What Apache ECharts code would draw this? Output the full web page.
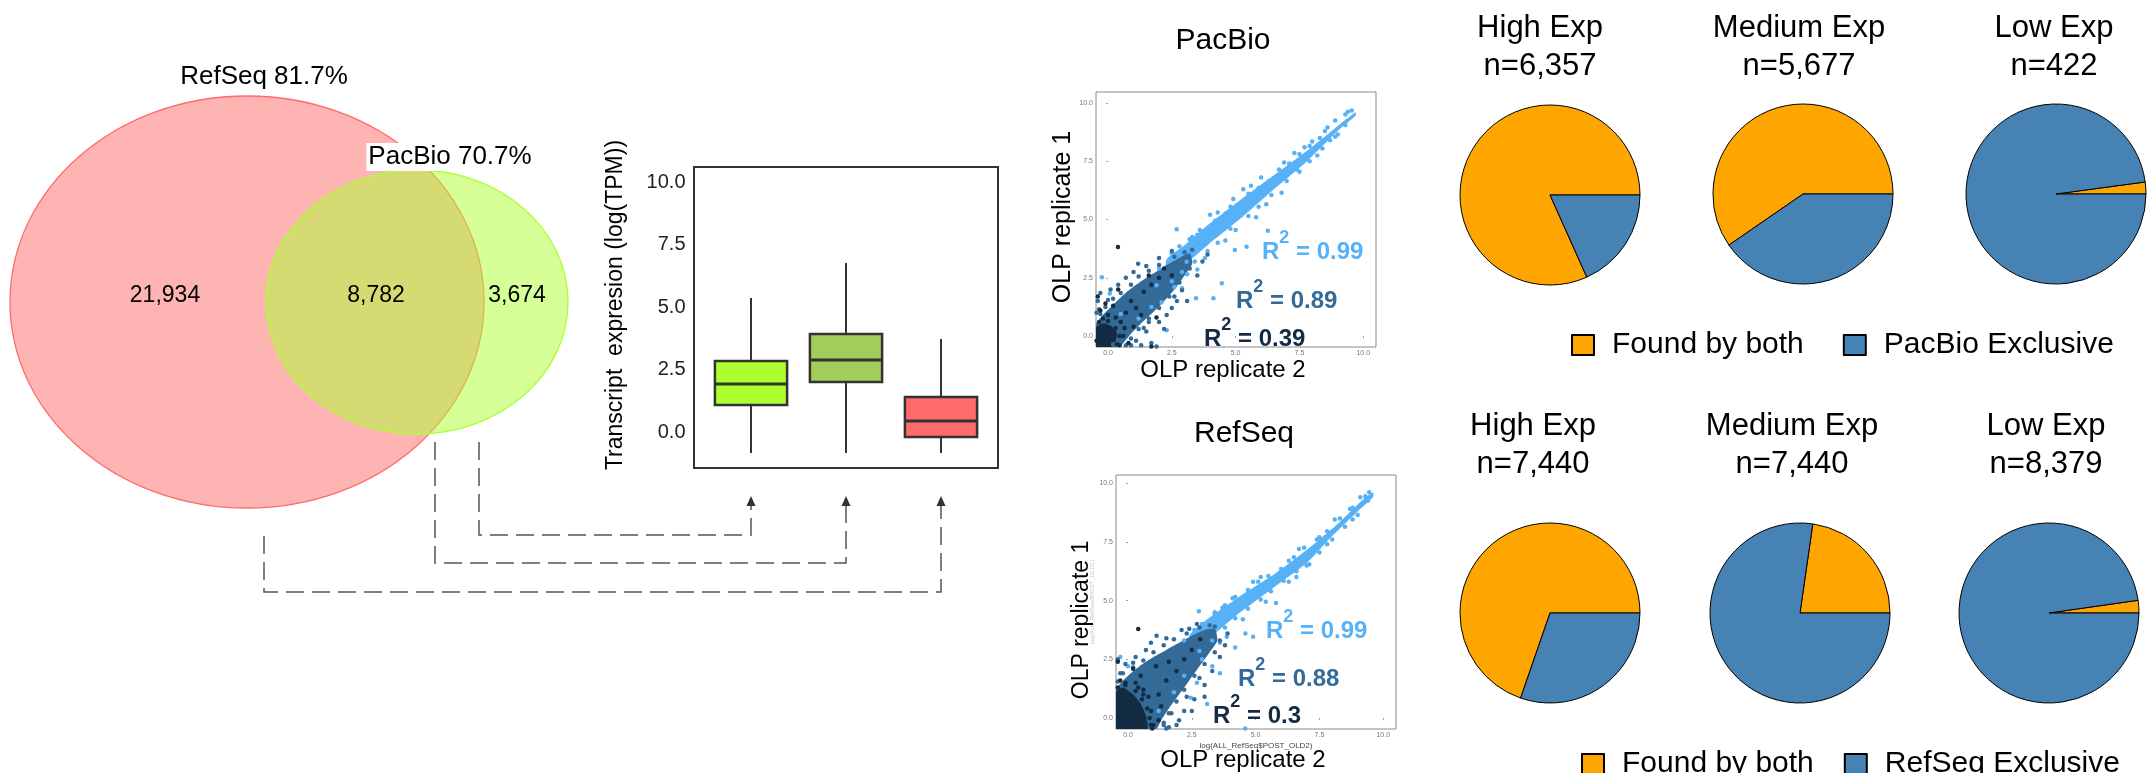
<!DOCTYPE html>
<html>
<head>
<meta charset="utf-8">
<script src="https://cdn.jsdelivr.net/npm/echarts@6/dist/echarts.min.js"></script>
<style>
  html, body { margin: 0; padding: 0; background: #ffffff; }
  #main { width: 2152px; height: 773px; }
</style>
</head>
<body>
<div id="main"></div>
<script>
// ---------------- data ----------------
const vennNames = ['RefSeq', 'PacBio'];
const vennShares = ['81.7%', '70.7%'];
const vennCounts = [21934, 8782, 3674];          // RefSeq only, shared, PacBio only

const boxCategories = ['PacBio only', 'Shared', 'RefSeq only'];
// [lower whisker, Q1, median, Q3, upper whisker] of log(TPM)
const boxStats = [
  [-0.84, 1.08, 1.92, 2.84, 5.36],
  [-0.84, 2.00, 2.88, 3.92, 6.76],
  [-0.84, -0.20, 0.44, 1.40, 3.72]
];
const axisTickValues = [0, 2.5, 5, 7.5, 10];

const r2PacBio = ['0.99', '0.89', '0.39'];
const r2RefSeq = ['0.99', '0.88', '0.3'];

// replicate scatter, PacBio: dense cores (outline) and scattered points
const pacbioHighCore = [[2.3,3.3],[3.0,3.9],[3.9,4.75],[5.2,5.85],[6.5,6.9],[7.8,7.95],[9.1,9.1],[9.7,9.6],[9.7,9.45],[9.1,8.9],[7.8,7.5],[6.5,6.3],[5.2,5.05],[3.9,3.9],[3.0,3.05],[2.3,2.4]];
const pacbioHighPts = [[4.91,5.88],[2.69,4.58],[6.26,4.52],[4.46,2.26],[4.13,1.62],[3.45,1.62],[4.97,3.69],[5.43,3.83],[-0.24,2.52],[0.07,1.83],[3.08,3.19],[1.9,2.18],[2.3,0.25],[3.3,4.25],[3.6,4.55],[4.3,5.3],[5.6,6.45],[6.0,6.8],[6.9,7.45],[7.3,7.85],[8.0,8.35],[8.5,8.8],[8.9,9.25],[9.3,9.5],[9.55,9.68],[9.0,8.65],[8.2,7.75],[7.5,7.05],[6.8,6.15],[5.8,5.1],[4.6,4.1],[3.8,3.35],[3.1,2.65],[5.0,4.55],[6.2,5.65],[2.6,2.1],[2.1,1.45],[1.7,1.25],[2.9,2.05],[3.5,2.85],[1.2,0.75],[0.5,0.95],[4.0,5.2],[5.3,6.3],[2.0,2.9],[2.6,3.5],[7.7,8.1],[8.7,8.4],
  [2.5,3.55],[2.8,3.85],[3.2,4.15],[3.5,4.35],[4.2,4.95],[4.6,5.25],[4.8,5.55],[5.5,6.1],[5.9,6.35],[6.3,6.65],[6.7,7.15],[7.1,7.4],[7.5,7.8],[7.9,8.15],[8.3,8.5],[8.6,8.95],[9.4,9.62],
  [2.5,2.35],[2.9,2.75],[3.4,3.2],[3.9,3.65],[4.3,4.0],[4.8,4.6],[5.5,5.15],[5.9,5.55],[6.4,6.05],[7.0,6.65],[7.4,7.15],[7.9,7.5],[8.4,8.05],[8.9,8.55],[9.3,9.05]];
const pacbioMidCore = [[-0.47,0.5],[-0.2,0.9],[0.3,1.45],[0.8,1.95],[1.3,2.35],[1.8,2.7],[2.3,3.05],[2.8,3.35],[3.2,3.55],[3.3,3.1],[3.0,2.6],[2.6,2.0],[2.2,1.5],[1.8,1.05],[1.3,0.55],[0.9,0.1],[0.6,-0.3],[0.45,-0.47],[-0.47,-0.47]];
const pacbioMidPts = [[-0.4,1.5],[-0.3,1.85],[-0.35,1.15],[0.1,2.0],[0.4,2.2],[0.7,2.5],[1.0,2.75],[1.18,3.1],[1.5,3.0],[2.0,3.35],[2.5,3.65],[1.9,-0.45],[1.7,-0.3],[2.0,0.6],[2.5,1.2],[2.9,1.97],[3.1,1.5],[1.5,0.2],[1.1,-0.2],[3.5,2.6],[2.7,1.5],[0.9,-0.4],[1.6,0.6],[2.3,0.9],[3.7,3.2],[3.9,3.5],[-0.45,1.0],[0.2,-0.35],[2.4,2.95],[3.3,3.7],[0.0,1.55],[1.3,-0.4],[2.2,0.3],
  [-0.3,0.95],[-0.1,1.25],[0.2,1.6],[0.5,1.85],[0.9,2.2],[1.2,2.55],[1.6,2.8],[2.0,3.05],[2.6,3.4],[3.0,3.6],
  [3.2,2.9],[2.8,2.3],[2.4,1.7],[2.0,1.2],[1.6,0.75],[1.2,0.3],[0.9,-0.1],[0.7,-0.4],[1.4,0.35],[2.6,1.7]];
const pacbioLowCore = [[-0.47,-0.47],[-0.47,0.35],[-0.2,0.55],[0.1,0.45],[0.35,0.15],[0.3,-0.2],[0.15,-0.47]];
const pacbioLowPts = [[0.39,3.82],[-0.4,1.7],[-0.3,1.1],[0.0,0.9],[0.2,1.3],[0.5,0.6],[0.7,1.0],[0.9,1.5],[1.1,1.2],[1.4,1.9],[1.7,2.2],[2.0,2.5],[2.2,2.9],[0.6,0.0],[0.8,-0.3],[1.3,0.9],[1.6,2.6],[1.9,0.8],[0.3,0.8],[-0.1,1.4],[2.5,2.6],[0.4,2.0],[1.0,0.4],[1.7,-0.45],[-0.45,-0.2],[0.45,-0.4],[0.65,0.35],[-0.2,0.75],
  [-0.35,0.6],[0.0,0.65],[0.3,0.35],[0.45,0.0],[0.35,-0.35],[-0.1,0.3],[0.15,0.1]];

// replicate scatter, RefSeq
const refseqHighCore = [[2.4,3.5],[3.1,4.2],[4.4,5.2],[5.7,6.1],[7.0,7.15],[8.2,8.25],[9.2,9.3],[9.6,9.6],[9.6,9.4],[9.0,8.8],[8.0,7.75],[7.0,6.6],[5.7,5.55],[4.4,4.5],[3.2,3.4],[2.6,2.8]];
const refseqHighPts = [[4.9,5.8],[2.78,4.55],[4.59,-0.45],[3.1,0.6],[2.46,0.86],[4.6,3.6],[3.87,3.46],[4.9,3.46],[3.6,1.9],[2.7,1.5],[3.7,4.7],[4.1,5.1],[5.2,6.0],[6.3,6.7],[6.7,7.2],[7.5,7.7],[8.1,8.45],[8.7,8.9],[9.1,9.4],[9.45,9.62],[8.8,8.45],[7.8,7.4],[7.1,6.55],[6.3,5.8],[5.4,4.95],[4.5,4.2],[3.6,3.2],[2.9,2.5],[3.3,2.2],[5.8,4.9],[6.6,6.0],[2.2,1.8],[1.8,1.1],[1.2,0.3],[0.0,2.2],[-0.3,2.6],[4.2,3.0],[2.2,3.3],[3.4,4.5],
  [2.6,3.75],[2.9,4.0],[3.4,4.45],[3.8,4.8],[4.2,5.15],[4.7,5.45],[5.1,5.8],[5.5,6.05],[6.0,6.35],[6.5,6.85],[6.9,7.25],[7.4,7.6],[7.8,7.95],[8.3,8.5],[8.8,8.95],[9.3,9.45],
  [2.8,2.85],[3.3,3.3],[3.8,3.85],[4.2,4.25],[4.7,4.65],[5.2,5.05],[5.6,5.4],[6.1,5.85],[6.6,6.25],[7.0,6.5],[7.5,7.05],[8.0,7.6],[8.5,8.15],[9.0,8.65],[9.4,9.25]];
const refseqMidCore = [[-0.47,1.2],[0.0,1.8],[0.5,2.25],[1.0,2.6],[1.5,2.9],[2.0,3.2],[2.5,3.5],[3.0,3.75],[3.4,3.8],[3.5,3.3],[3.2,2.8],[2.8,2.2],[2.4,1.6],[2.0,1.0],[1.6,0.4],[1.3,-0.1],[1.1,-0.47],[-0.47,-0.47]];
const refseqMidPts = [[-0.4,2.5],[-0.1,2.3],[1.12,3.5],[1.9,-0.3],[2.2,0.3],[2.6,0.8],[3.0,1.4],[3.3,2.0],[3.6,2.6],[2.0,-0.1],[1.6,-0.4],[0.9,3.2],[1.5,3.4],[2.1,3.75],[2.7,4.0],[3.8,3.1],[0.3,2.6],[0.7,2.9],[2.5,0.3],[3.0,0.9],[1.4,-0.2],[2.4,3.8],[3.4,3.9],[-0.3,1.9],[0.2,2.35],[1.7,0.2],[2.8,1.7],[3.9,3.6],
  [-0.4,1.55],[-0.2,1.9],[0.2,2.15],[0.6,2.45],[1.0,2.8],[1.4,3.1],[1.8,3.35],[2.3,3.6],[2.8,3.85],[3.2,3.95],
  [3.6,3.3],[3.4,2.8],[3.0,2.3],[2.6,1.8],[2.2,1.2],[1.9,0.7],[1.6,0.2],[1.4,-0.3],[1.5,-0.45],[2.3,0.9]];
const refseqLowCore = [[-0.47,-0.47],[-0.47,1.1],[-0.2,1.3],[0.2,1.0],[0.5,0.6],[0.7,0.1],[0.75,-0.47]];
const refseqLowPts = [[0.9,0.3],[1.0,-0.3],[0.8,0.9],[0.3,1.5],[-0.3,1.6],[-0.4,2.4],[0.2,2.1],[1.2,1.0],[1.5,1.6],[1.9,2.0],[2.2,2.5],[2.5,2.9],[0.5,1.8],[1.1,2.2],[1.3,0.5],[1.6,2.4],[0.4,3.79],[2.83,3.35],[0.95,-0.45],[1.2,-0.1],[0.6,1.2],[-0.1,1.5],[0.1,0.6],
  [-0.4,1.3],[-0.1,1.4],[0.3,1.15],[0.55,0.8],[0.75,0.4],[0.85,0.0],[0.9,-0.3],[0.6,1.0],[0.4,1.3]];

// expression classes
const expGroups = ['High Exp', 'Medium Exp', 'Low Exp'];
const sliceNames = ['Found by both', 'PacBio Exclusive', 'RefSeq Exclusive'];
const pacbioFoundBoth = [5194, 3384, 9];
const pacbioExclusive = [1163, 2293, 413];
const refseqFoundBoth = [5186, 1691, 189];
const refseqExclusive = [2254, 5749, 8190];

// ---------------- drawing ----------------
const FONT = "'Liberation Sans', Arial, Helvetica, sans-serif";
const C_HIGH = '#56B1F7', C_MID = '#336A98', C_LOW = '#132B43';
const boxColors = ['#ADFF2F', '#A2CD5A', '#FF6A6A'];
const C_BOTH = '#FFA500', C_EXCL = '#4682B4';
const fmt = n => n.toLocaleString('en-US');

const chart = echarts.init(document.getElementById('main'), null, { renderer: 'canvas' });

function text(str, x, y, size, opts) {
  opts = opts || {};
  return {
    type: 'text', x: x, y: y, rotation: opts.rotation || 0, z: opts.z || 10,
    style: Object.assign({
      text: str, font: (opts.weight || 'normal') + ' ' + size + 'px ' + FONT,
      fill: opts.color || '#000', align: opts.align || 'center', verticalAlign: 'middle'
    }, opts.style || {})
  };
}

function r2Text(value, x, y, color) {
  const base = { fontWeight: 'bold', fontFamily: FONT, fill: color };
  return {
    type: 'text', x: x, y: y, z: 20,
    style: {
      text: '{r|R}{s|2}{t| = ' + value + '}', align: 'left', verticalAlign: 'middle',
      rich: {
        r: Object.assign({ fontSize: 24, lineHeight: 35, verticalAlign: 'bottom' }, base),
        s: Object.assign({ fontSize: 18, lineHeight: 18, verticalAlign: 'top' }, base),
        t: Object.assign({ fontSize: 24, lineHeight: 35, verticalAlign: 'bottom' }, base)
      }
    }
  };
}

function cloudCore(axis, pts, color) {
  return {
    type: 'custom', xAxisIndex: axis, yAxisIndex: axis, data: pts, silent: true, clip: true,
    encode: { x: 0, y: 1 },
    renderItem: function (params, api) {
      if (params.dataIndex !== 0) return null;
      return { type: 'polygon', shape: { points: pts.map(p => api.coord(p)), smooth: 0.2 }, style: { fill: color } };
    }
  };
}
function cloudPts(axis, pts, color) {
  return {
    type: 'scatter', xAxisIndex: axis, yAxisIndex: axis, data: pts, silent: true, clip: true,
    symbolSize: 4.5, itemStyle: { color: color, opacity: 1 }
  };
}

function scatterAxis(gridIndex, min, max, extra) {
  return Object.assign({
    type: 'value', gridIndex: gridIndex, min: min, max: max,
    axisLine: { show: false }, splitLine: { show: false },
    axisTick: { show: true, customValues: axisTickValues, length: 2, lineStyle: { color: '#888', width: 0.8 } },
    axisLabel: { customValues: axisTickValues, fontSize: 7, color: '#777', margin: 3, fontFamily: FONT,
      formatter: v => v.toFixed(1) }
  }, extra || {});
}

function pieSeries(center, foundBoth, exclusive, exclusiveName) {
  return {
    type: 'pie', center: center, radius: 90, startAngle: 0, clockwise: false,
    silent: true, label: { show: false }, labelLine: { show: false },
    itemStyle: { borderColor: '#000', borderWidth: 1 },
    emphasis: { disabled: true },
    data: [
      { name: sliceNames[0], value: foundBoth, itemStyle: { color: C_BOTH } },
      { name: exclusiveName, value: exclusive, itemStyle: { color: C_EXCL } }
    ]
  };
}

const pieCentersTop = [[1550, 195], [1803, 194], [2056, 194]];
const pieCentersBottom = [[1550, 613], [1800, 613], [2049, 613]];

const series = [
  // expression boxplots (no whisker caps)
  {
    type: 'custom', xAxisIndex: 1, yAxisIndex: 1, silent: true,
    data: boxStats.map((s, i) => [i].concat(s)),
    encode: { x: 0, y: [1, 2, 3, 4, 5] },
    renderItem: function (params, api) {
      const i = api.value(0);
      const p = k => api.coord([i, api.value(k)]);
      const lo = p(1), q1 = p(2), md = p(3), q3 = p(4), hi = p(5);
      const w = api.size([1, 0])[0] * 0.76;
      const x = lo[0];
      return {
        type: 'group', children: [
          { type: 'line', shape: { x1: x, y1: hi[1], x2: x, y2: lo[1] }, style: { stroke: '#333', lineWidth: 2 } },
          { type: 'rect', shape: { x: x - w / 2, y: q3[1], width: w, height: q1[1] - q3[1] },
            style: { fill: boxColors[params.dataIndex], stroke: '#333', lineWidth: 2.5 } },
          { type: 'line', shape: { x1: x - w / 2, y1: md[1], x2: x + w / 2, y2: md[1] }, style: { stroke: '#333', lineWidth: 3 } }
        ]
      };
    }
  },
  cloudCore(2, pacbioHighCore, C_HIGH), cloudPts(2, pacbioHighPts, C_HIGH),
  cloudCore(2, pacbioMidCore, C_MID), cloudPts(2, pacbioMidPts, C_MID),
  cloudCore(2, pacbioLowCore, C_LOW), cloudPts(2, pacbioLowPts, C_LOW),
  cloudCore(3, refseqHighCore, C_HIGH), cloudPts(3, refseqHighPts, C_HIGH),
  cloudCore(3, refseqMidCore, C_MID), cloudPts(3, refseqMidPts, C_MID),
  cloudCore(3, refseqLowCore, C_LOW), cloudPts(3, refseqLowPts, C_LOW)
];
expGroups.forEach((g, i) => {
  series.push(pieSeries(pieCentersTop[i], pacbioFoundBoth[i], pacbioExclusive[i], sliceNames[1]));
  series.push(pieSeries(pieCentersBottom[i], refseqFoundBoth[i], refseqExclusive[i], sliceNames[2]));
});

const graphics = [];
// Venn diagram
graphics.push({ type: 'ellipse', z: 1, shape: { cx: 247, cy: 302, rx: 237, ry: 206 },
  style: { fill: 'rgba(255,106,106,0.5)', stroke: '#FF6A6A', lineWidth: 1.3 } });
graphics.push({ type: 'ellipse', z: 2, shape: { cx: 417, cy: 302, rx: 151, ry: 132 },
  style: { fill: 'rgba(173,255,47,0.5)', stroke: '#ADFF2F', lineWidth: 1.3 } });
graphics.push(text(vennNames[0] + ' ' + vennShares[0], 264, 77, 26));
graphics.push(text(vennNames[1] + ' ' + vennShares[1], 450, 157, 26,
  { style: { backgroundColor: '#fff', padding: [1, 2, 1, 2] } }));
graphics.push(text(fmt(vennCounts[0]), 165, 296, 23));
graphics.push(text(fmt(vennCounts[1]), 376, 296, 23));
graphics.push(text(fmt(vennCounts[2]), 517, 296, 23));

// boxplot axis title
graphics.push(text('Transcript  expresion (log(TPM))', 616, 305, 23, { rotation: Math.PI / 2 }));

// replicate scatter titles
graphics.push(text('PacBio', 1223, 41, 30));
graphics.push(text('RefSeq', 1244, 434, 30));
graphics.push(text('OLP replicate 2', 1223, 370, 24));
graphics.push(text('OLP replicate 1', 1063, 217, 25, { rotation: Math.PI / 2 }));
graphics.push(text('OLP replicate 2', 1243, 760, 24));
graphics.push(text('OLP replicate 1', 1082, 620, 23, { rotation: Math.PI / 2 }));
[C_HIGH, C_MID, C_LOW].forEach((c, i) => {
  graphics.push(r2Text(r2PacBio[i], [1262, 1236, 1204][i], [247, 296, 334][i], c));
  graphics.push(r2Text(r2RefSeq[i], [1266, 1238, 1213][i], [626, 674, 711][i], c));
});

// pie titles
const topTitleX = [1540, 1799, 2054], botTitleX = [1533, 1792, 2046];
expGroups.forEach((g, i) => {
  graphics.push(text(g, topTitleX[i], 28, 31));
  graphics.push(text('n=' + fmt(pacbioFoundBoth[i] + pacbioExclusive[i]), topTitleX[i], 66, 31));
  graphics.push(text(g, botTitleX[i], 426, 31));
  graphics.push(text('n=' + fmt(refseqFoundBoth[i] + refseqExclusive[i]), botTitleX[i], 464, 31));
});

const legendText = { fontSize: 30, color: '#000', padding: [0, 0, 0, 13], lineHeight: 30, fontFamily: FONT };
const option = {
  animation: false,
  backgroundColor: '#ffffff',
  textStyle: { fontFamily: FONT },
  grid: [
    { left: 694, top: 167, width: 304, height: 301, show: true, borderColor: '#333', borderWidth: 2, backgroundColor: 'transparent' },
    { left: 703.5, top: 167, width: 285, height: 301 },
    { left: 1096, top: 92, width: 280, height: 255, show: true, borderColor: '#8a8a8a', borderWidth: 1, backgroundColor: 'transparent' },
    { left: 1116, top: 475, width: 280, height: 254, show: true, borderColor: '#8a8a8a', borderWidth: 1, backgroundColor: 'transparent' }
  ],
  xAxis: [
    { type: 'value', gridIndex: 0, min: 0, max: 1, show: false },
    { type: 'category', gridIndex: 1, data: boxCategories, axisLine: { show: false },
      axisLabel: { show: false }, axisTick: { show: true, alignWithLabel: true, length: 3, lineStyle: { color: '#aaa' } } },
    scatterAxis(2, -0.47, 10.5),
    scatterAxis(3, -0.47, 10.5, { name: 'log(ALL_RefSeq$POST_OLD2)', nameLocation: 'middle', nameGap: 13,
      nameTextStyle: { fontSize: 8, color: '#444', fontFamily: FONT } })
  ],
  yAxis: [
    { type: 'value', gridIndex: 0, min: 0, max: 1, show: false },
    { type: 'value', gridIndex: 1, min: -1.44, max: 10.6, axisLine: { show: false }, splitLine: { show: false },
      axisTick: { show: false },
      axisLabel: { customValues: axisTickValues, formatter: v => v.toFixed(1), fontSize: 20, color: '#222', margin: 18, fontFamily: FONT } },
    scatterAxis(2, -0.47, 10.47),
    scatterAxis(3, -0.47, 10.35, { name: 'log(ALL_RefSeq$POST_OLD1)', nameLocation: 'middle', nameGap: 19,
      nameTextStyle: { fontSize: 6, color: '#c8c8c8', fontFamily: FONT } })
  ],
  legend: [
    { data: [sliceNames[0], sliceNames[1]], left: 1566, top: 325, icon: 'rect', itemWidth: 22, itemHeight: 20,
      itemGap: 39, selectedMode: false, textStyle: legendText },
    { data: [sliceNames[0], sliceNames[2]], left: 1576, top: 744, icon: 'rect', itemWidth: 22, itemHeight: 20,
      itemGap: 30, selectedMode: false, textStyle: legendText }
  ],
  series: series,
  graphic: { elements: graphics }
};
chart.setOption(option);

// dashed connectors from the Venn regions to the matching boxes
const links = [
  { x: 479, y0: 442, y1: 535, cat: 0 },
  { x: 435, y0: 442, y1: 563, cat: 1 },
  { x: 264, y0: 536, y1: 592, cat: 2 }
];
const tipY = 496;
links.forEach(l => {
  const ax = chart.convertToPixel({ gridIndex: 1 }, [l.cat, 0])[0];
  graphics.push({ type: 'polyline', z: 5, shape: { points: [[l.x, l.y0], [l.x, l.y1], [ax, l.y1], [ax, tipY + 9]] },
    style: { stroke: '#555', lineWidth: 1.5, lineDash: [18, 8], fill: null } });
  graphics.push({ type: 'polygon', z: 5, shape: { points: [[ax - 4.5, tipY + 10], [ax + 4.5, tipY + 10], [ax, tipY]] },
    style: { fill: '#333' } });
});
chart.setOption({ graphic: { elements: graphics } });
</script>
</body>
</html>
